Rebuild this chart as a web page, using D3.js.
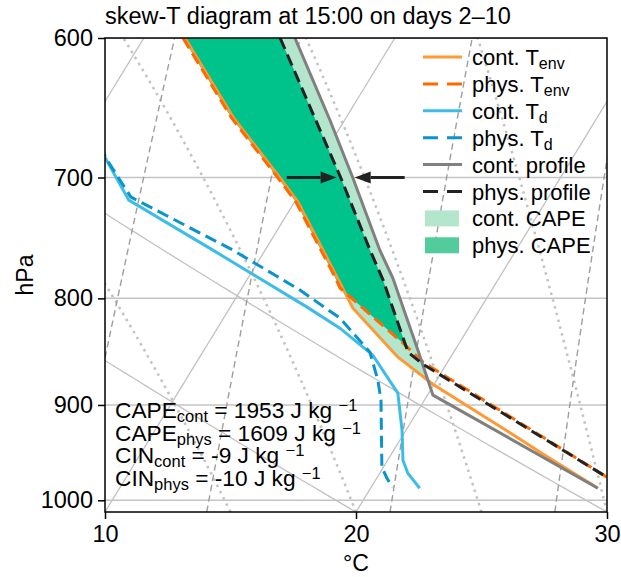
<!DOCTYPE html>
<html>
<head><meta charset="utf-8">
<style>
  body { margin: 0; background: #fff; }
  text { font-family: "Liberation Sans", Arial, Helvetica, sans-serif; fill: #000; }
</style>
</head>
<body>
<svg id="chart" width="621" height="577"></svg>
<script src="https://d3js.org/d3.v7.min.js"></script>
<script>
// ---- values (pressure in hPa, temperature in deg C) ----
var pressureTicks = [600, 700, 800, 900, 1000];
var tempTicks = [10, 20, 30];

var contTenvP = [600, 654.8, 700, 719.3, 781.4, 808.7, 853.7, 879.6, 932.6, 951.4, 986];
var contTenvT = [1.64, 5.48, 8.81, 10.14, 13.52, 14.91, 17.90, 19.95, 24.59, 26.14, 29.0];

var physTenvP = [600, 654.8, 700, 719.3, 781.4, 791.0, 840.6, 858.4, 974.8, 986];
var physTenvT = [1.56, 5.40, 8.73, 10.06, 13.44, 13.91, 17.76, 19.02, 29.15, 30.07];

var contTdP = [651.1, 684.4, 717.7, 758.5, 807.8, 826.8, 851.8, 888.3, 925.4, 956.7, 970.5, 986.7];
var contTdT = [-0.74, 1.35, 3.35, 7.92, 13.06, 14.88, 16.85, 18.77, 19.84, 20.61, 21.12, 21.96];

var physTdP = [652.6, 686.6, 715.3, 758.5, 792.7, 817.7, 849.0, 875.7, 895.2, 964.1, 975.9, 985.6];
var physTdT = [-0.57, 1.51, 3.36, 8.72, 12.36, 14.64, 16.66, 17.66, 18.27, 19.94, 20.41, 20.86];

var contProfP = [600, 656.9, 700, 758.5, 782.3, 844.3, 890.3, 986.7];
var contProfT = [6.02, 9.41, 11.72, 14.57, 15.77, 18.41, 20.22, 29.06];

var physProfP = [600, 700, 758.5, 784.0, 849.0, 860.3, 974.8, 986];
var physProfT = [5.43, 11.24, 14.18, 15.43, 18.18, 19.06, 29.15, 30.12];

// arrows at 700 hPa: [from T, to T]
var arrowP = 700;
var arrowFromT = [9.09, 13.79];
var arrowToT = [11.08, 11.80];

var capeNames = ["CAPE", "CAPE", "CIN", "CIN"];
var capeSubs = ["cont", "phys", "cont", "phys"];
var capeValues = ["1953", "1609", "-9", "-10"];

// background line families
var isothermT = [-30, -20, -10, 0, 10, 20, 30];
var dryAdiabatT = [10, 20, 30];
var moistAdiabatT = [0, 5, 10, 15, 20, 25, 30];
var mixingRatios = [0.0004, 0.001, 0.002, 0.004, 0.007, 0.01, 0.016, 0.024, 0.032];

// ---- layout ----
var L = 105, R = 607, T0 = 38, B = 512;
var pBot = 1013;
var svg = d3.select("#chart");

var x = d3.scaleLinear().domain([10, 30]).range([L, R]);
var y = d3.scaleLog().domain([pBot, 600]).range([B, T0]);
var skew = Math.tan(30 * Math.PI / 180) * (R - L) / (B - T0);
function sx(t, p) { return x(t) + skew * (B - y(p)); }

var line = d3.line().x(function(d) { return sx(d.t, d.p); }).y(function(d) { return y(d.p); });

function zip(ps, ts) { return ps.map(function(p, i) { return {p: p, t: ts[i]}; }); }

svg.append("defs").append("clipPath").attr("id", "clip")
  .append("rect").attr("x", L).attr("y", T0).attr("width", R - L).attr("height", B - T0);

var plot = svg.append("g").attr("clip-path", "url(#clip)");

// horizontal grid
plot.selectAll(".grid").data(pressureTicks).enter().append("line")
  .attr("x1", L).attr("x2", R)
  .attr("y1", function(d) { return y(d); }).attr("y2", function(d) { return y(d); })
  .attr("stroke", "#c4c4c4").attr("stroke-width", 1.5);

// thermodynamic reference lines
var RD = 287.04749, CPD = 1004.666, LV = 2.50084e6, EPS = 0.6219569, KAPPA = RD / CPD;
var pLev = d3.range(0, 61).map(function(i) { return pBot + (600 - pBot) * i / 60; });

isothermT.forEach(function(t) {
  plot.append("path").datum(pLev.map(function(p) { return {p: p, t: t}; }))
    .attr("d", line).attr("fill", "none").attr("stroke", "#c2c2c2").attr("stroke-width", 1.3);
});
dryAdiabatT.forEach(function(t0) {
  plot.append("path").datum(pLev.map(function(p) {
      return {p: p, t: (t0 + 273.15) * Math.pow(p / pBot, KAPPA) - 273.15};
    }))
    .attr("d", line).attr("fill", "none").attr("stroke", "#c2c2c2").attr("stroke-width", 1.3);
});

function dTdp(p, T) {
  var es = 6.112 * Math.exp(17.67 * (T - 273.15) / (T - 29.65));
  var rs = EPS * es / (p - es);
  return (RD * T + LV * rs) / (CPD + LV * LV * rs * EPS / (RD * T * T)) / p;
}
moistAdiabatT.forEach(function(t0) {
  var T = t0 + 273.15, pts = [];
  var h = (600 - pBot) / 60;
  for (var i = 0; i <= 60; i++) {
    var p = pLev[i];
    pts.push({p: p, t: T - 273.15});
    var k1 = dTdp(p, T), k2 = dTdp(p + h / 2, T + h / 2 * k1),
        k3 = dTdp(p + h / 2, T + h / 2 * k2), k4 = dTdp(p + h, T + h * k3);
    T += h / 6 * (k1 + 2 * k2 + 2 * k3 + k4);
  }
  plot.append("path").datum(pts)
    .attr("d", line).attr("fill", "none").attr("stroke", "#c2c2c2")
    .attr("stroke-width", 2.5).attr("stroke-dasharray", "2.5 4.5");
});
mixingRatios.forEach(function(w) {
  var pts = pLev.map(function(p) {
    var e = p * w / (EPS + w), v = Math.log(e / 6.112);
    return {p: p, t: 243.5 * v / (17.67 - v)};
  });
  plot.append("path").datum(pts)
    .attr("d", line).attr("fill", "none").attr("stroke", "#9e9e9e")
    .attr("stroke-width", 1.4).attr("stroke-dasharray", "6.5 4");
});

// CAPE areas: where parcel profile is warmer than environment
function capeSegments(envP, envT, profP, profT) {
  var env = d3.scaleLog().domain(envP).range(envT);
  var prof = d3.scaleLog().domain(profP).range(profT);
  var lo = Math.max(envP[0], profP[0]);
  var hi = Math.min(envP[envP.length - 1], profP[profP.length - 1]);
  var n = 400, segs = [], cur = null, prev = null;
  for (var i = 0; i <= n; i++) {
    var p = lo * Math.pow(hi / lo, i / n);
    var d = {p: p, e: env(p), q: prof(p)};
    var pos = d.q > d.e;
    if (prev && pos !== (prev.q > prev.e)) {
      var a = prev.q - prev.e, b = d.q - d.e, f = a / (a - b);
      var pc = Math.exp(Math.log(prev.p) + f * (Math.log(p) - Math.log(prev.p)));
      var c = {p: pc, e: env(pc), q: env(pc)};
      if (cur) { cur.push(c); segs.push(cur); cur = null; } else { cur = [c]; }
    }
    if (pos) { if (!cur) cur = []; cur.push(d); }
    prev = d;
  }
  if (cur) segs.push(cur);
  return segs;
}
var area = d3.area()
  .y(function(d) { return y(d.p); })
  .x0(function(d) { return sx(d.e, d.p); })
  .x1(function(d) { return sx(d.q, d.p); });

capeSegments(contTenvP, contTenvT, contProfP, contProfT).forEach(function(s) {
  plot.append("path").datum(s).attr("d", area).attr("fill", "#b3e6cd");
});
capeSegments(physTenvP, physTenvT, physProfP, physProfT).forEach(function(s) {
  plot.append("path").datum(s).attr("d", area).attr("fill", "#00c38c");
});

// profiles
var series = [
  {p: contTenvP, t: contTenvT, color: "#ff9933", dash: null, w: 3},
  {p: physTenvP, t: physTenvT, color: "#ff6a00", dash: "12 6", w: 3},
  {p: contTdP, t: contTdT, color: "#3dbde6", dash: null, w: 3},
  {p: physTdP, t: physTdT, color: "#0994cc", dash: "12 6", w: 3},
  {p: contProfP, t: contProfT, color: "#808080", dash: null, w: 3},
  {p: physProfP, t: physProfT, color: "#222222", dash: "12 6", w: 3}
];
series.forEach(function(s) {
  plot.append("path").datum(zip(s.p, s.t))
    .attr("d", line).attr("fill", "none").attr("stroke", s.color)
    .attr("stroke-width", s.w).attr("stroke-dasharray", s.dash)
    .attr("stroke-linejoin", "miter");
});

// arrows
arrowFromT.forEach(function(tf, i) {
  var x1 = sx(tf, arrowP), x2 = sx(arrowToT[i], arrowP), yy = y(arrowP);
  var dir = x2 > x1 ? 1 : -1, hl = 16, hw = 6;
  svg.append("line").attr("x1", x1).attr("x2", x2 - dir * hl).attr("y1", yy).attr("y2", yy)
    .attr("stroke", "#222").attr("stroke-width", 3);
  svg.append("path")
    .attr("d", "M" + x2 + "," + yy + "L" + (x2 - dir * hl) + "," + (yy - hw) + "L" + (x2 - dir * hl) + "," + (yy + hw) + "Z")
    .attr("fill", "#222");
});

// axes
var yAxis = svg.append("g").attr("transform", "translate(" + L + ",0)")
  .call(d3.axisLeft(y).tickValues(pressureTicks).tickFormat(d3.format("d")).tickSize(7).tickPadding(5));
var xAxis = svg.append("g").attr("transform", "translate(0," + B + ")")
  .call(d3.axisBottom(x).tickValues(tempTicks).tickSize(7).tickPadding(6));
[yAxis, xAxis].forEach(function(g) {
  g.select(".domain").remove();
  g.selectAll("line").attr("stroke", "#000").attr("stroke-width", 1.5);
  g.selectAll("text").attr("font-size", 23.5).attr("font-family", "Liberation Sans, Arial, sans-serif").attr("fill", "#000");
});
svg.append("rect").attr("x", L).attr("y", T0).attr("width", R - L).attr("height", B - T0)
  .attr("fill", "none").attr("stroke", "#000").attr("stroke-width", 1.5);

svg.append("text").attr("x", 105).attr("y", 24).attr("font-size", 23.5)
  .text("skew-T diagram at 15:00 on days 2\u201310");
svg.append("text").attr("transform", "translate(33,275) rotate(-90)").attr("text-anchor", "middle")
  .attr("font-size", 23).text("hPa");
svg.append("text").attr("x", 356).attr("y", 571).attr("text-anchor", "middle")
  .attr("font-size", 23).text("\u00b0C");

// CAPE / CIN annotation
capeNames.forEach(function(nm, i) {
  var t = svg.append("text").attr("x", 115).attr("y", 418 + i * 22.7).attr("font-size", 22.7);
  t.append("tspan").text(nm);
  t.append("tspan").attr("dy", 4).attr("font-size", 16.5).text(capeSubs[i]);
  t.append("tspan").attr("dy", -4).text(" = " + capeValues[i] + " J kg ");
  t.append("tspan").attr("dy", -7).attr("font-size", 16.5).text("\u22121");
});

// legend
var legendItems = [
  {label: "cont. T", sub: "env", kind: "line", color: "#ff9933", dash: null},
  {label: "phys. T", sub: "env", kind: "line", color: "#ff6a00", dash: "15 9"},
  {label: "cont. T", sub: "d", kind: "line", color: "#3dbde6", dash: null},
  {label: "phys. T", sub: "d", kind: "line", color: "#0994cc", dash: "15 9"},
  {label: "cont. profile", sub: "", kind: "line", color: "#808080", dash: null},
  {label: "phys. profile", sub: "", kind: "line", color: "#222222", dash: "15 9"},
  {label: "cont. CAPE", sub: "", kind: "patch", color: "#b3e6cd"},
  {label: "phys. CAPE", sub: "", kind: "patch", color: "#52cc9c"}
];
var lg = svg.append("g");
legendItems.forEach(function(d, i) {
  var cy = 57 + i * 26.9;
  if (d.kind === "line") {
    lg.append("line").attr("x1", 423).attr("x2", 462).attr("y1", cy).attr("y2", cy)
      .attr("stroke", d.color).attr("stroke-width", 3).attr("stroke-dasharray", d.dash);
  } else {
    lg.append("rect").attr("x", 425).attr("y", cy - 8).attr("width", 34).attr("height", 16).attr("fill", d.color);
  }
  var t = lg.append("text").attr("x", 472).attr("y", cy + 8).attr("font-size", 22);
  t.append("tspan").text(d.label);
  if (d.sub) t.append("tspan").attr("dy", 4).attr("font-size", 16).text(d.sub);
});
</script>
</body>
</html>
